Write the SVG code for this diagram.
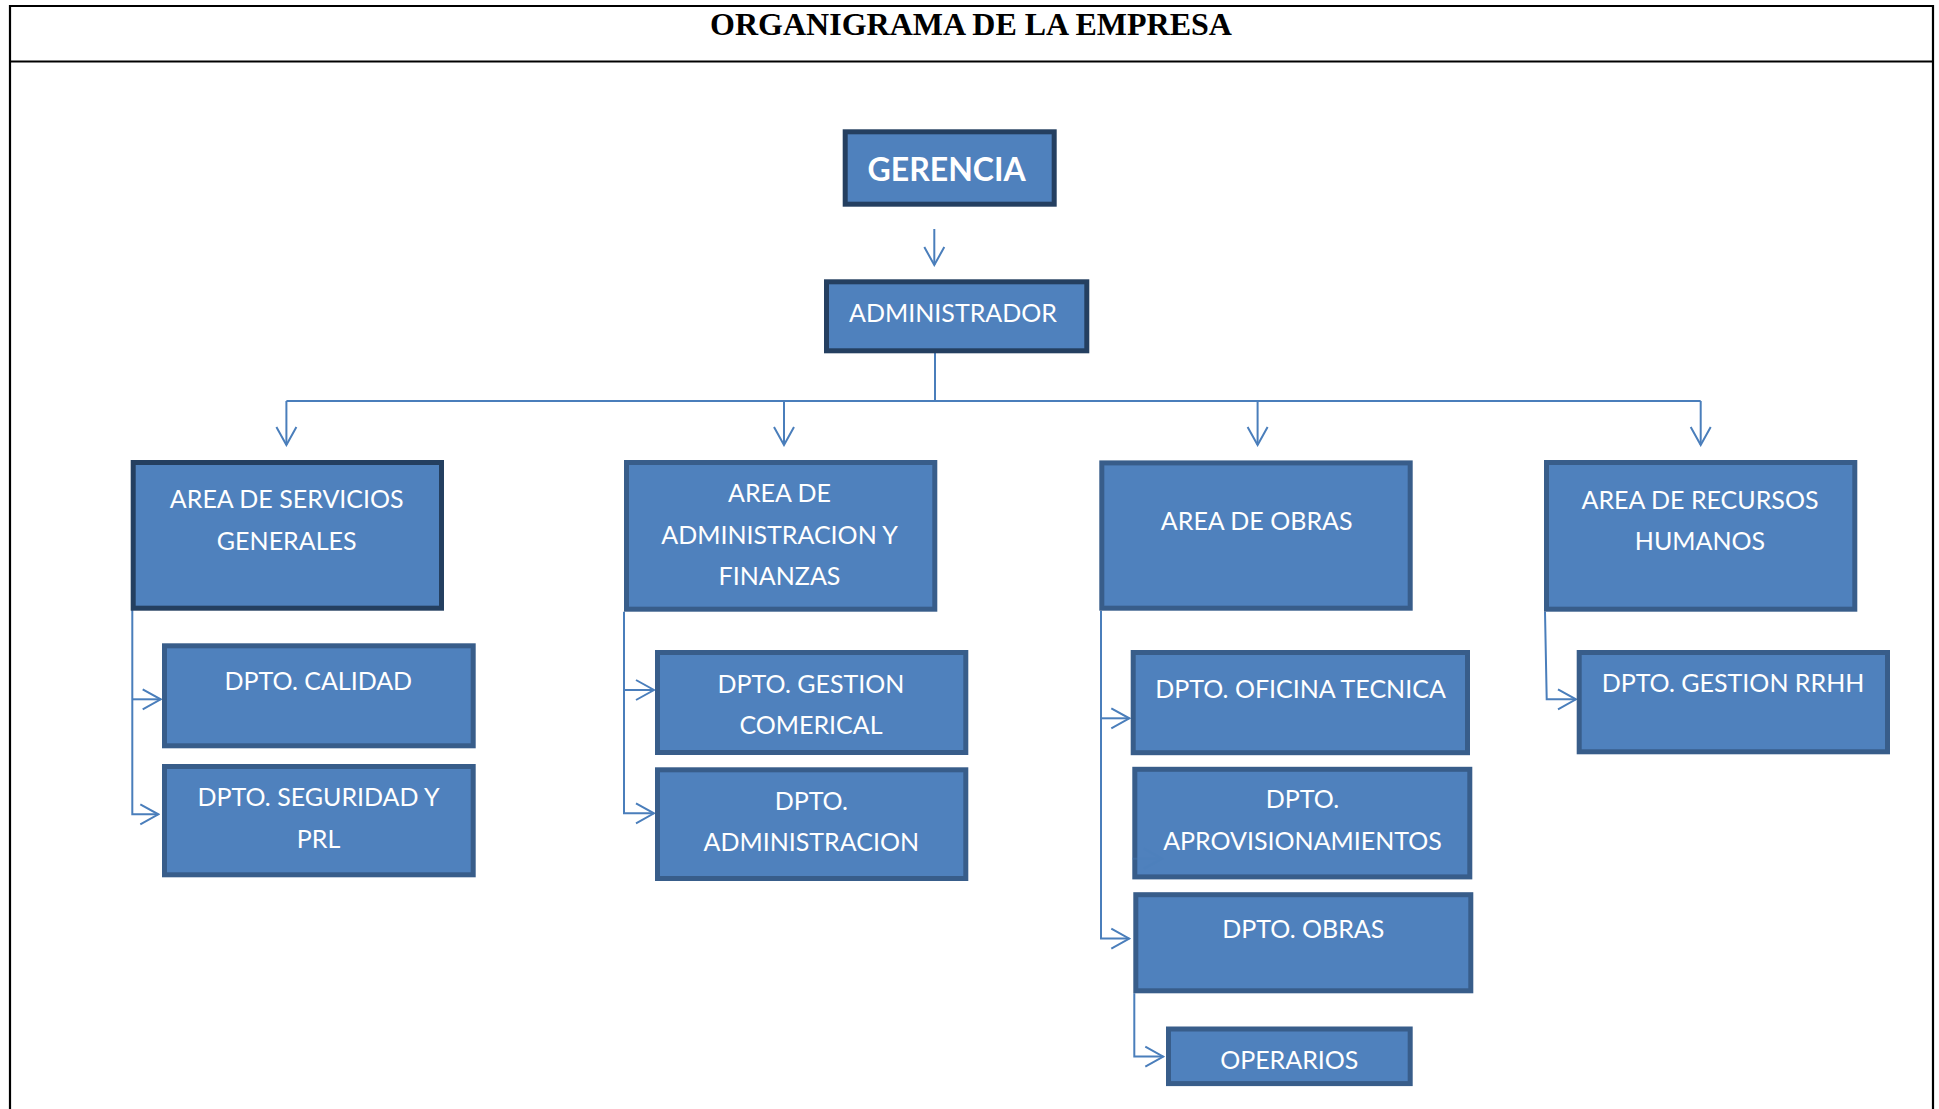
<svg xmlns="http://www.w3.org/2000/svg" width="1939" height="1109" viewBox="0 0 1939 1109">
<style>
.frame{stroke:#000;stroke-width:2.2;fill:none}
.title{font-family:"Liberation Serif","Times New Roman",serif;font-weight:bold;font-size:32px;fill:#000}
.box{fill:#4F81BD;stroke:#385D8A;stroke-width:5}
.dark{stroke:#243F60}
.t{font-family:Lato,"Open Sans",sans-serif;font-size:25px;fill:#fff;text-anchor:middle}
.tb{font-weight:bold;font-size:32px}
.c{stroke:#4A7EBB;stroke-width:2;fill:none}
</style>
<defs>
<marker id="ah" viewBox="-20 -12 22 24" markerWidth="22" markerHeight="24" refX="0" refY="0" orient="auto" markerUnits="userSpaceOnUse">
<path d="M-18,-10 L0,0 L-18,10" fill="none" stroke="#4A7EBB" stroke-width="2"/>
</marker>
</defs>
<rect width="1939" height="1109" fill="#fff"/>
<g id="frame">
<line class="frame" x1="9" y1="6" x2="1934" y2="6"/>
<line class="frame" x1="9" y1="61.5" x2="1934" y2="61.5"/>
<line class="frame" x1="10" y1="5" x2="10" y2="1109"/>
<line class="frame" x1="1933" y1="5" x2="1933" y2="1109"/>
<text class="title" x="971" y="35" text-anchor="middle">ORGANIGRAMA DE LA EMPRESA</text>
</g>
<g id="connectors">
<path class="c" d="M934.3,229 L934.3,265" marker-end="url(#ah)"/>
<path class="c" d="M935,353 L935,401 M286.4,401 L1700.7,401"/>
<path class="c" d="M286.4,401 L286.4,445" marker-end="url(#ah)"/>
<path class="c" d="M784,401 L784,445" marker-end="url(#ah)"/>
<path class="c" d="M1257.6,401 L1257.6,445" marker-end="url(#ah)"/>
<path class="c" d="M1700.7,401 L1700.7,445" marker-end="url(#ah)"/>
<path class="c" d="M132.3,610 L132.3,814.3 L158.3,814.3" marker-end="url(#ah)"/>
<path class="c" d="M132.3,699.3 L160.7,699.3" marker-end="url(#ah)"/>
<path class="c" d="M624,611.7 L624,813.3 L654,813.3" marker-end="url(#ah)"/>
<path class="c" d="M624,690 L654,690" marker-end="url(#ah)"/>
<path class="c" d="M1101,610.7 L1101,938.6 L1129.3,938.6" marker-end="url(#ah)"/>
<path class="c" d="M1101,718.3 L1129.3,718.3" marker-end="url(#ah)"/>
<path class="c" d="M1134.3,993.3 L1134.3,1056.6 L1163.3,1056.6" marker-end="url(#ah)"/>
<path class="c" d="M1545,611.7 L1546.7,699.3 L1576,699.3" marker-end="url(#ah)"/>
</g>
<g id="gerencia">
<rect class="box dark" x="845.2" y="131.8" width="209" height="72.4"/>
<text class="t tb" x="946.7" y="180.7">GERENCIA</text>
</g>
<g id="administrador">
<rect class="box dark" x="826.5" y="281.8" width="260.3" height="69"/>
<text class="t" x="953" y="321.7">ADMINISTRADOR</text>
</g>
<g id="area-servicios">
<rect class="box dark" x="133.2" y="462.5" width="308.3" height="145.7"/>
<text class="t" x="286.7" y="508.3">AREA DE SERVICIOS</text>
<text class="t" x="286.7" y="550">GENERALES</text>
</g>
<g id="dpto-calidad">
<rect class="box" x="164.5" y="645.8" width="308.7" height="100"/>
<text class="t" x="318.3" y="690">DPTO. CALIDAD</text>
</g>
<g id="dpto-seguridad">
<rect class="box" x="164.5" y="766.5" width="308.7" height="108.3"/>
<text class="t" x="318.5" y="806">DPTO. SEGURIDAD Y</text>
<text class="t" x="318.5" y="847.7">PRL</text>
</g>
<g id="area-administracion">
<rect class="box" x="626.5" y="462.5" width="308.3" height="146.7"/>
<text class="t" x="779.5" y="501.7">AREA DE</text>
<text class="t" x="779.5" y="544">ADMINISTRACION Y</text>
<text class="t" x="779.5" y="585">FINANZAS</text>
</g>
<g id="dpto-gestion-comercial">
<rect class="box" x="657.5" y="652.5" width="308.3" height="100"/>
<text class="t" x="811" y="692.7">DPTO. GESTION</text>
<text class="t" x="811" y="734">COMERICAL</text>
</g>
<g id="dpto-administracion">
<rect class="box" x="657.5" y="769.8" width="308.3" height="108.7"/>
<text class="t" x="811.3" y="810">DPTO.</text>
<text class="t" x="811.3" y="850.7">ADMINISTRACION</text>
</g>
<g id="area-obras">
<rect class="box" x="1101.8" y="462.9" width="308.4" height="145.3"/>
<text class="t" x="1256.7" y="529.5">AREA DE OBRAS</text>
</g>
<g id="dpto-oficina-tecnica">
<rect class="box" x="1133.2" y="652.5" width="334.3" height="100.2"/>
<text class="t" x="1300.5" y="697.5">DPTO. OFICINA TECNICA</text>
</g>
<g id="dpto-aprovisionamientos">
<rect class="box" x="1134.8" y="769.3" width="335" height="107.6"/>
<text class="t" x="1302.5" y="808.2">DPTO.</text>
<text class="t" x="1302.5" y="850.4">APROVISIONAMIENTOS</text>
<path class="c" d="M1132,858.7 L1162,858.7" marker-end="url(#ah)" opacity="0.3"/>
</g>
<g id="dpto-obras">
<rect class="box" x="1135.8" y="894.7" width="335" height="96.1"/>
<text class="t" x="1303.3" y="937.8">DPTO. OBRAS</text>
</g>
<g id="operarios">
<rect class="box" x="1168.5" y="1029" width="241.7" height="54.6"/>
<text class="t" x="1289.3" y="1068.5">OPERARIOS</text>
</g>
<g id="area-rrhh">
<rect class="box" x="1546.5" y="462.5" width="308.3" height="146.7"/>
<text class="t" x="1700" y="509.3">AREA DE RECURSOS</text>
<text class="t" x="1700" y="550">HUMANOS</text>
</g>
<g id="dpto-gestion-rrhh">
<rect class="box" x="1579.2" y="652.5" width="308.3" height="99.3"/>
<text class="t" x="1733" y="691.7">DPTO. GESTION RRHH</text>
</g>
</svg>
